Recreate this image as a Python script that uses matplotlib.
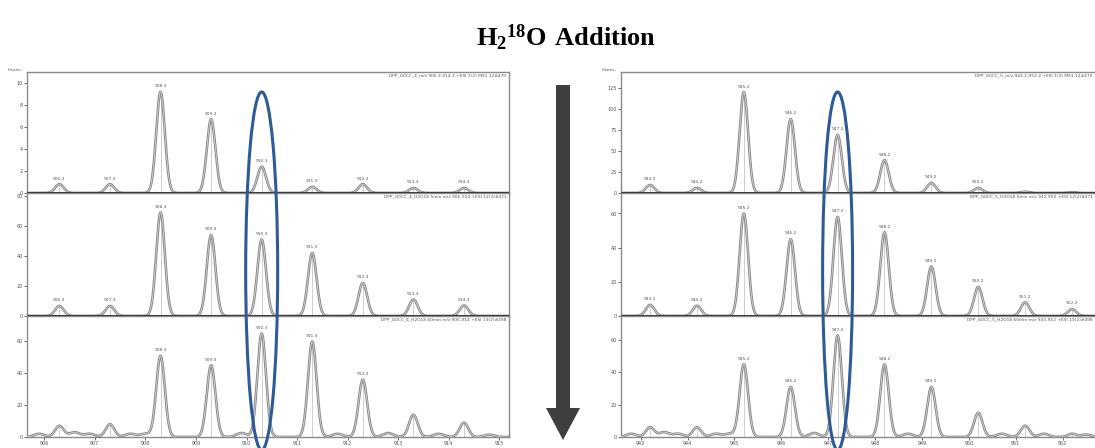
import numpy as np
import matplotlib
matplotlib.use("Agg")
import matplotlib.pyplot as plt
from matplotlib.patches import Ellipse, FancyArrow

plt.rcParams["mathtext.fontset"] = "custom"
plt.rcParams["mathtext.bf"] = "Liberation Serif:bold"
plt.rcParams["mathtext.rm"] = "Liberation Serif"

# ---- data ----
left_mz = [906.3, 907.3, 908.3, 909.3, 910.3, 911.3, 912.3, 913.3, 914.3]
left_top = [0.8, 0.8, 9.2, 6.7, 2.4, 0.55, 0.8, 0.45, 0.45]
left_mid = [6.7, 6.7, 69, 54, 51, 42, 22, 11, 7]
left_bot = [7, 8, 51, 45, 65, 60, 36, 14, 9]

right_mz = [943.2, 944.2, 945.2, 946.2, 947.2, 948.2, 949.2, 950.2, 951.2, 952.2]
right_top = [9.5, 6, 120, 88, 69, 39, 12, 6, 1.5, 1]
right_mid = [6.5, 6, 60, 45, 58, 49, 29, 17, 8, 4]
right_bot = [6, 6, 45, 31, 63, 45, 31, 15, 7, 2]

# small baseline bumps in the last scan of each series
left_noise_mz = [905.9, 906.6, 906.9, 907.7, 908.0, 909.9, 911.8, 912.8, 913.8, 914.8]
left_noise_h = [2, 3, 2, 2, 2, 2.5, 2, 2.5, 2, 1.5]
right_noise_mz = [942.8, 943.5, 943.8, 944.6, 944.9, 946.7, 948.7, 950.7, 951.6, 952.5]
right_noise_h = [2, 3, 2, 2, 2, 2.5, 2, 2, 2, 1.5]

left_yticks = [[0, 2, 4, 6, 8, 10], [0, 20, 40, 60, 80], [0, 20, 40, 60]]
left_ylim = [11, 82, 76]
right_yticks = [[0, 25, 50, 75, 100, 125], [0, 20, 40, 60], [0, 20, 40, 60]]
right_ylim = [144, 72, 75]
left_xticks = list(range(906, 916))
right_xticks = list(range(943, 953))

left_labelled = [range(0, 9), range(0, 9), range(2, 7)]
right_labelled = [range(0, 8), range(0, 10), range(2, 7)]

left_headers = ["DPP_G0CC_4_m/z 906.3-914.3 +ESI 1(2) MS1 12#470",
                "DPP_G0CC_4_H2O18 5min m/z 906-914 +ESI 12(2)#471",
                "DPP_G0CC_4_H2O18 60min m/z 906-914 +ESI 13(2)#498"]
right_headers = ["DPP_G0CC_5_m/z 943.2-952.2 +ESI 1(2) MS1 12#470",
                 "DPP_G0CC_5_H2O18 5min m/z 943-952 +ESI 12(2)#471",
                 "DPP_G0CC_5_H2O18 60min m/z 943-952 +ESI 13(2)#498"]

W, H = 1095, 448
fig = plt.figure(figsize=(W / 100, H / 100), dpi=100)
fig.patch.set_facecolor("white")

row_edges = [72, 193, 316, 437]


def spectrum(ax, mz, heights, sigma, lims, noise=None):
    x = np.linspace(lims[0], lims[1], 3000)
    y = np.zeros_like(x)
    for c, h in zip(mz, heights):
        y += h * np.exp(-(x - c) ** 2 / (2 * sigma ** 2))
    if noise is not None:
        for c, h in zip(*noise):
            y += h * np.exp(-(x - c) ** 2 / (2 * (sigma * 1.2) ** 2))
    for c, h in zip(mz, heights):
        ax.plot([c, c], [0, h], color="#c8c8c8", lw=0.6, zorder=1)
    ax.plot(x, y, color="#8a8a8a", lw=1.9, zorder=2)
    ax.plot(x, y, color="#dedede", lw=0.5, zorder=3)


def panel(x0, x1, xlim, mz, series, yticks, ylims, labelled, headers, xticks,
          sigma, noise, fmt, open_right=False):
    axes = []
    for i, (vals, yt, yl) in enumerate(zip(series, yticks, ylims)):
        top, bot = row_edges[i], row_edges[i + 1]
        ax = fig.add_axes([x0 / W, 1 - bot / H, (x1 - x0) / W, (bot - top) / H])
        spectrum(ax, mz, vals, sigma, xlim, noise if i == 2 else None)
        ax.set_xlim(*xlim)
        ax.set_ylim(0, yl)
        ax.set_yticks(yt)
        ax.tick_params(axis="y", labelsize=3.5, length=2, width=0.6,
                       colors="#555555", pad=1)
        if i == 2:
            ax.set_xticks(xticks)
            ax.tick_params(axis="x", labelsize=3.5, length=2, width=0.6,
                           colors="#555555", pad=1)
        else:
            ax.set_xticks([])
            ax.axhline(0, color="#2b2b2b", lw=2.2, zorder=4)
        for s in ax.spines.values():
            s.set_color("#8a8a8a")
            s.set_linewidth(1)
        if open_right:
            ax.spines["right"].set_visible(False)
        for j in labelled[i]:
            ax.text(mz[j], vals[j] + yl * 0.03, fmt.format(mz[j]),
                    fontsize=3.2, color="#555555", ha="center", va="bottom")
        ax.text(0.995, 0.985, headers[i], transform=ax.transAxes,
                fontsize=3.2, color="#555555", ha="right", va="top")
        if i == 0:
            ax.text(-0.01, 1.0, "Intens.", transform=ax.transAxes,
                    fontsize=3.2, color="#555555", ha="right", va="bottom")
        axes.append(ax)
    return axes


laxes = panel(27, 509, (905.66, 915.19), left_mz,
              [left_top, left_mid, left_bot], left_yticks, left_ylim,
              left_labelled, left_headers, left_xticks, 0.085,
              (left_noise_mz, left_noise_h), "{:.1f}")
raxes = panel(621, 1095, (942.58, 952.69), right_mz,
              [right_top, right_mid, right_bot], right_yticks, right_ylim,
              right_labelled, right_headers, right_xticks, 0.09,
              (right_noise_mz, right_noise_h), "{:.1f}", open_right=True)

# overlay in pixel units for the annotations
ov = fig.add_axes([0, 0, 1, 1], zorder=10)
ov.set_xlim(0, W)
ov.set_ylim(H, 0)
ov.axis("off")
ov.patch.set_alpha(0)

for ax, c, w in [(laxes[0], 910.3, 32), (raxes[0], 947.2, 30)]:
    cx = ax.transData.transform((c, 0))[0]
    ov.add_patch(Ellipse((cx, 271), w, 358, fill=False,
                         edgecolor="#2d5b97", lw=2.2))

ov.add_patch(FancyArrow(563, 85, 0, 355, width=14, head_width=34,
                        head_length=32, length_includes_head=True,
                        color="#3f3f3f", lw=0))

fig.text(566 / W, 1 - 38 / H, r"$\mathbf{H_2{}^{18}O\ Addition}$",
         ha="center", va="center", fontsize=19, color="black")

fig.savefig("out.png", dpi=100, facecolor="white")
